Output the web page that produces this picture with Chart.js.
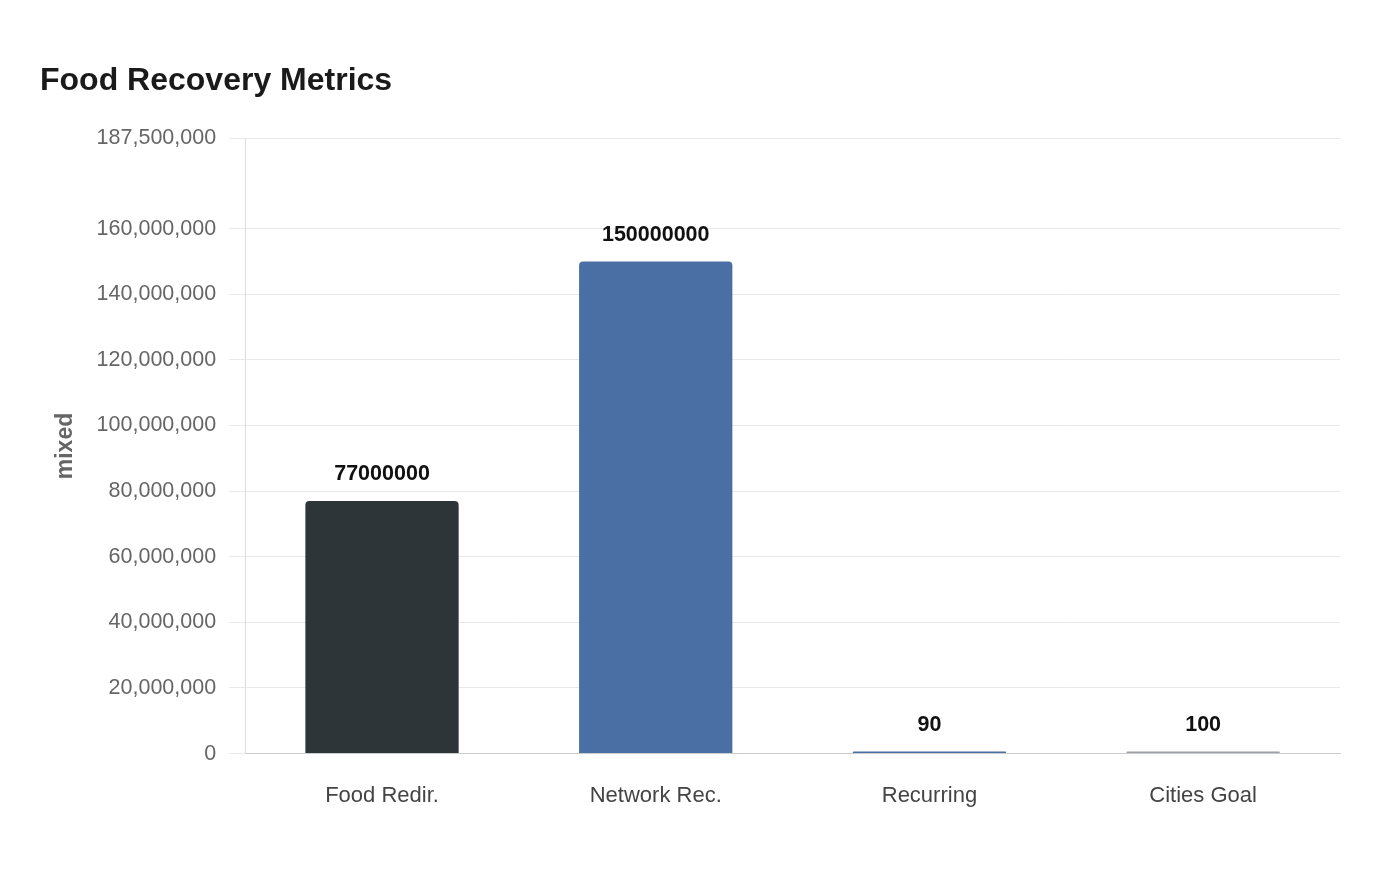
<!DOCTYPE html>
<html>
<head>
<meta charset="utf-8">
<script src="https://cdn.jsdelivr.net/npm/chart.js@4/dist/chart.umd.min.js"></script>
<style>
html,body{margin:0;padding:0;background:#fff;}
#wrap{width:1400px;height:880px;}
</style>
</head>
<body>
<div id="wrap"><canvas id="c" width="1400" height="880"></canvas></div>
<script>
const categories = ["Food Redir.", "Network Rec.", "Recurring", "Cities Goal"];
const values = [77000000, 150000000, 90, 100];
const barColors = ["#2e3538", "#4a6fa5", "#4a6fa5", "#9aa0a6"];
const yTicks = [0, 20000000, 40000000, 60000000, 80000000, 100000000, 120000000, 140000000, 160000000, 187500000];
const yMax = 187500000;

const FONT = '"Liberation Sans", Arial, sans-serif';

const valueLabels = {
  id: 'valueLabels',
  afterDatasetsDraw(chart) {
    const ctx = chart.ctx;
    const meta = chart.getDatasetMeta(0);
    ctx.save();
    ctx.font = 'bold 21.5px ' + FONT;
    ctx.fillStyle = '#111';
    ctx.textAlign = 'center';
    ctx.textBaseline = 'bottom';
    meta.data.forEach((bar, i) => {
      ctx.fillText(String(values[i]), bar.x, bar.y - 16);
    });
    ctx.restore();
  }
};

new Chart(document.getElementById('c'), {
  type: 'bar',
  data: {
    labels: categories,
    datasets: [{
      data: values,
      backgroundColor: barColors,
      borderRadius: 4,
      borderSkipped: 'bottom',
      minBarLength: 2,
      barPercentage: 0.7,
      categoryPercentage: 0.8
    }]
  },
  options: {
    responsive: false,
    animation: false,
    devicePixelRatio: 1,
    layout: { padding: { left: 40, right: 60, top: 20, bottom: 50 } },
    plugins: {
      legend: { display: false },
      tooltip: { enabled: false },
      title: {
        display: true,
        text: 'Food Recovery Metrics',
        align: 'start',
        color: '#1a1a1a',
        font: { family: FONT, size: 32, weight: 'bold' },
        padding: { top: 42, bottom: 38 }
      }
    },
    scales: {
      x: {
        grid: { display: false },
        border: { display: true, color: '#cccccc' },
        ticks: {
          color: '#444',
          padding: 21,
          font: { family: FONT, size: 22 }
        }
      },
      y: {
        min: 0,
        max: yMax,
        afterBuildTicks: (axis) => { axis.ticks = yTicks.map(v => ({ value: v })); },
        grid: { color: '#e9e9e9', tickLength: 16 },
        border: { display: true, color: '#dddddd' },
        ticks: {
          color: '#666',
          padding: 13,
          font: { family: FONT, size: 21.5 },
          callback: v => Number(v).toLocaleString('en-US')
        },
        title: {
          display: true,
          text: 'mixed',
          color: '#666',
          padding: { top: 12, bottom: 4 },
          font: { family: FONT, size: 23, weight: 'bold' }
        }
      }
    }
  },
  plugins: [valueLabels]
});
</script>
</body>
</html>
